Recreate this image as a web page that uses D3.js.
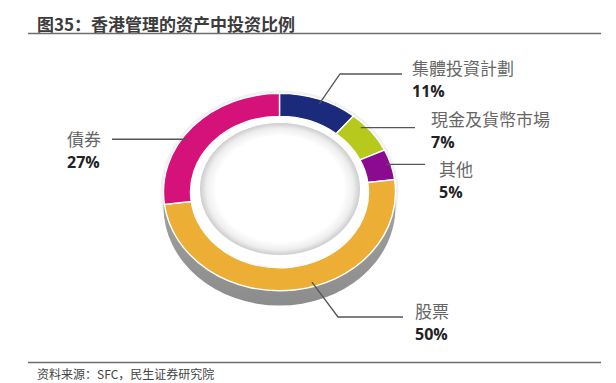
<!DOCTYPE html>
<html>
<head>
<meta charset="utf-8">
<script src="https://cdn.jsdelivr.net/npm/d3@7"></script>
<style>
  body { margin: 0; background: #fff; }
  svg { display: block; }
</style>
</head>
<body>
<div id="chart"></div>
<script>
// data
const categories = ["集體投資計劃", "現金及貨幣市場", "其他", "股票", "債券"];
const shares = [11, 7, 5, 50, 27];
const pctLabels = ["11%", "7%", "5%", "50%", "27%"];

const titleText = "图35：香港管理的资产中投资比例";
const sourceText = "资料来源：SFC，民生证券研究院";

// styles + layout (not data)
const colors = ["#1b2a7a", "#b6c91c", "#8c0a8f", "#ecae35", "#d5127a"];
const leaderLayout = [
    {angle: 21,  elbow: [340, 74],  endX: 402, tx: 412, ty: 75},
    {angle: 47,  elbow: null,       endX: 415, tx: 431, ty: 126},
    {angle: 73,  elbow: null,       endX: 425, tx: 439, ty: 176},
    {angle: 163, elbow: [338, 317], endX: 403, tx: 415, ty: 318},
    {angle: 304, elbow: null,       endX: 112, tx: 67,  ty: 146}
];

const width = 616, height = 383;
const cx = 279.5, cy = 192;
const outerR = 116, innerR = 89, tilt = 0.85, depth = 15;

const svg = d3.select("#chart")
    .append("svg")
    .attr("width", width)
    .attr("height", height);

const defs = svg.append("defs");

const holeGrad = defs.append("radialGradient").attr("id", "hole");
holeGrad.append("stop").attr("offset", "0%").attr("stop-color", "#ffffff");
holeGrad.append("stop").attr("offset", "80%").attr("stop-color", "#ffffff");
holeGrad.append("stop").attr("offset", "92%").attr("stop-color", "#eeeeee");
holeGrad.append("stop").attr("offset", "100%").attr("stop-color", "#cdcdcd");

const sideGrad = defs.append("linearGradient").attr("id", "side")
    .attr("x1", 0).attr("y1", 0).attr("x2", 0).attr("y2", 1);
sideGrad.append("stop").attr("offset", "0%").attr("stop-color", "#a2a2a2");
sideGrad.append("stop").attr("offset", "100%").attr("stop-color", "#8c8c8c");

// title + rules
svg.append("text")
    .attr("x", 37).attr("y", 31)
    .attr("font-family", "'Noto Sans CJK SC', sans-serif")
    .attr("font-size", 17)
    .attr("font-weight", "bold")
    .attr("fill", "#3c3c3c")
    .text(titleText);

[33.5, 362.5].forEach(y => {
    svg.append("line")
        .attr("x1", 28).attr("x2", 601).attr("y1", y).attr("y2", y)
        .attr("stroke", "#6e6e6e").attr("stroke-width", 1.3);
});

svg.append("text")
    .attr("x", 37).attr("y", 379)
    .attr("font-family", "'Noto Sans CJK SC', sans-serif")
    .attr("font-size", 12)
    .attr("fill", "#444")
    .text(sourceText);

// ring
const ry = outerR * tilt;

// soft rim
svg.append("ellipse")
    .attr("cx", cx).attr("cy", cy)
    .attr("rx", outerR + 3).attr("ry", ry + 3)
    .attr("fill", "#f1f1f1");

// side of the disc
svg.append("path")
    .attr("d", `M${cx - outerR},${cy} L${cx - outerR},${cy + depth}
        A${outerR},${ry} 0 0 0 ${cx + outerR},${cy + depth}
        L${cx + outerR},${cy}
        A${outerR},${ry} 0 0 1 ${cx - outerR},${cy} Z`)
    .attr("fill", "url(#side)");

const pie = d3.pie().sort(null).value(d => d);
const arcs = pie(shares);

const arc = d3.arc().innerRadius(innerR).outerRadius(outerR);

const ring = svg.append("g")
    .attr("transform", `translate(${cx},${cy}) scale(1,${tilt})`);

ring.append("ellipse")
    .attr("rx", innerR).attr("ry", innerR)
    .attr("fill", "#fff");

ring.selectAll(".slice")
    .data(arcs)
    .enter()
    .append("path")
    .attr("class", "slice")
    .attr("d", arc)
    .attr("fill", (d, i) => colors[i])
    .attr("stroke", "#fff")
    .attr("stroke-width", 1.4)
    .attr("vector-effect", "non-scaling-stroke");

// inner hole
svg.append("ellipse")
    .attr("cx", cx + 0.5).attr("cy", cy - 3)
    .attr("rx", 80).attr("ry", 66)
    .attr("fill", "url(#hole)");

// leader lines + labels
const anchorR = outerR - 5;

arcs.forEach((d, i) => {
    const lay = leaderLayout[i];
    const p = d3.pointRadial(lay.angle * Math.PI / 180, anchorR);
    const start = [cx + p[0], cy + p[1] * tilt];
    const pts = [start];
    let lineY = start[1];
    if (lay.elbow) {
        pts.push(lay.elbow);
        lineY = lay.elbow[1];
    }
    pts.push([lay.endX, lineY]);

    svg.append("path")
        .attr("d", d3.line()(pts))
        .attr("fill", "none")
        .attr("stroke", "#555")
        .attr("stroke-width", 1.3);

    svg.append("text")
        .attr("x", lay.tx).attr("y", lay.ty)
        .attr("font-family", "'Noto Sans CJK TC', sans-serif")
        .attr("font-size", 17)
        .attr("fill", "#666")
        .text(categories[i]);

    svg.append("text")
        .attr("x", lay.tx).attr("y", lay.ty + 22)
        .attr("font-family", "'Open Sans', sans-serif")
        .attr("font-size", 16)
        .attr("font-weight", "bold")
        .attr("fill", "#222")
        .text(pctLabels[i]);
});
</script>
</body>
</html>
